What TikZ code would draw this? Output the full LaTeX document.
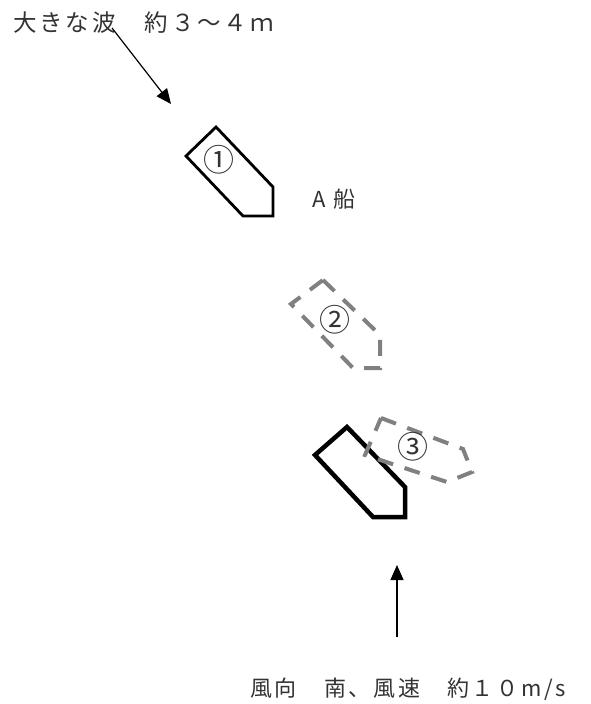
\documentclass[tikz,border=0pt]{standalone}
\usepackage{fontspec}
\setmainfont{Noto Sans CJK JP}[LetterSpace=12]
\newfontfamily\circfont{Noto Sans CJK JP}
\usetikzlibrary{arrows.meta}
\tikzset{
  lbl/.style={font=\fontsize{22}{26}\selectfont, text=black!80, inner sep=0pt},
  toplbl/.style={font=\fontsize{23.5}{28}\selectfont, text=black!80, inner sep=0pt},
  numlbl/.style={font=\circfont\fontsize{31}{34}\selectfont, text=black!80, inner sep=0pt},
  shipline/.style={draw=black, line width=2.8pt, line join=miter},
  shipbold/.style={draw=black, line width=4.5pt, line join=miter},
  shipghost/.style={draw=black!50, line width=4pt, dash pattern=on 16pt off 12pt},
  flow/.style={draw=black, line width=1.2pt, -{Triangle[length=15pt,width=13pt]}}
}
\begin{document}
\begin{tikzpicture}[x=1pt,y=-1pt]
\useasboundingbox (0,0) rectangle (590,704);

% labels
\node[toplbl, anchor=west] (wave) at (13,23) {大きな波　約３～４ｍ};
\node[lbl, anchor=west] (wind) at (250,689) {風向　南、風速　約１０m/s};
\node[lbl] (shipname) at (334,199) {A 船};

% ship position 1
\draw[shipline] (216,127) -- (273,187) -- (273,216) -- (243,216) -- (186,156) -- cycle;
\node[numlbl] (n1) at (219,160) {①};

% ship position 2 (dashed)
\draw[shipghost] (323,280) -- (380,335) -- (380,368) -- (353,368) -- (291,304) -- cycle;
\node[numlbl] (n2) at (335,320) {②};

% ship position 3, actual and turned
\draw[shipbold] (347,427) -- (405,487) -- (405,517) -- (373,517) -- (315,455) -- cycle;
\draw[shipghost] (381,418) -- (463,449) -- (472,472) -- (447,482) -- (365,455) -- cycle;
\node[numlbl] (n3) at (413,447) {③};

% wave and wind directions
\coordinate (waveA) at (112,28);
\coordinate (waveB) at (171,104);
\draw[flow] (waveA) -- (waveB);
\coordinate (windA) at (397,637);
\coordinate (windB) at (397,565);
\draw[flow] (windA) -- (windB);
\end{tikzpicture}
\end{document}
